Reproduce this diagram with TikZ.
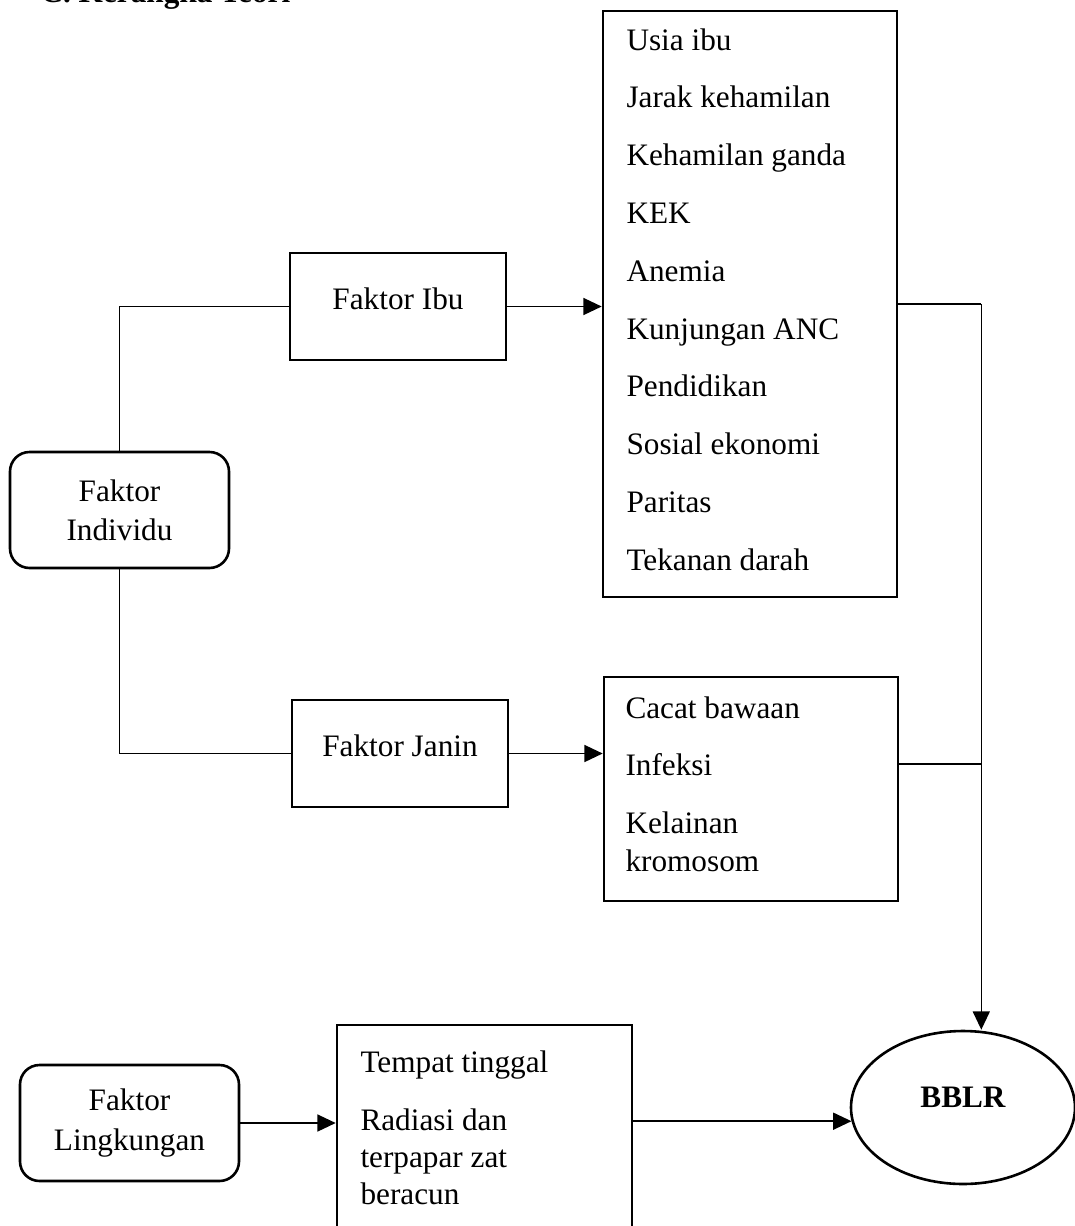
\documentclass[tikz,border=0pt]{standalone}
\usepackage{fontspec}
\setmainfont{Liberation Serif}
\usetikzlibrary{arrows.meta,shapes.geometric}

\newdimen\px \px=0.384pt

\tikzset{
  every node/.style={font=\fontsize{12}{15}\selectfont},
  kotak/.style={draw, line width=1pt, inner sep=0pt},
  faktorbox/.style={kotak, text depth=6pt},
  bulatbox/.style={kotak, rounded corners=7.5pt, align=center},
  itemtext/.style={anchor=base west, inner sep=0pt},
  link/.style={line width=0.6pt},
  panah/.style={link, -{Triangle[length=7pt,width=6.5pt]}}
}

\begin{document}
\begin{tikzpicture}[x=0.384pt, y=-0.384pt]
\useasboundingbox (0,0) rectangle (1075,1226);

\node[itemtext, font=\fontsize{12}{15}\selectfont\bfseries] (judul) at (40,2) {C. Kerangka Teori};

% Faktor Individu
\node[bulatbox, minimum width=219\px, minimum height=116\px] (individu) at (119.5,510) {Faktor\\Individu};
\node[faktorbox, minimum width=216\px, minimum height=107\px] (fibu) at (398,306.5) {Faktor Ibu};
\node[faktorbox, minimum width=216\px, minimum height=107\px] (fjan) at (400,753.5) {Faktor Janin};

% Daftar faktor ibu
\node[kotak, minimum width=294\px, minimum height=586\px] (ibulist) at (750,304) {};
\foreach \isi [count=\i] in {Usia ibu, Jarak kehamilan, Kehamilan ganda, KEK, Anemia,
  Kunjungan ANC, Pendidikan, Sosial ekonomi, Paritas, Tekanan darah}
  \node[itemtext] (ibu-\i) at (626,{50+57.8*(\i-1)}) {\isi};

% Daftar faktor janin
\node[kotak, minimum width=294\px, minimum height=224\px] (janlist) at (751,789) {};
\foreach \isi/\y [count=\i] in {Cacat bawaan/718, Infeksi/775, Kelainan/833, kromosom/871}
  \node[itemtext] (jan-\i) at (625,\y) {\isi};

% Faktor Lingkungan
\node[bulatbox, minimum width=219\px, minimum height=116\px] (lingk) at (129.5,1123) {Faktor\\Lingkungan};
\node[kotak, minimum width=295\px, minimum height=215\px] (linglist) at (484.5,1132.5) {};
\foreach \isi/\y [count=\i] in {Tempat tinggal/1072, Radiasi dan/1130, terpapar zat/1167, beracun/1204}
  \node[itemtext] (ling-\i) at (360,\y) {\isi};

% BBLR
\node[kotak, ellipse, minimum width=224\px, minimum height=153\px, text depth=8pt,
  font=\fontsize{12}{15}\selectfont\bfseries] (bblr) at (963,1107.5) {BBLR};

% garis penghubung
\draw[link] (individu.north) |- (fibu.west);
\draw[link] (individu.south) |- (fjan.west);
\draw[panah] (fibu.east) -- (fibu.east -| ibulist.west);
\draw[panah] (fjan.east) -- (fjan.east -| janlist.west);

\draw[link] (ibulist.east) -- ++(83,0) coordinate (sudut);
\draw[panah] (sudut) -- (sudut |- bblr.north);
\draw[link] (jan-2 -| janlist.east) -- (jan-2 -| sudut);

\draw[panah] (lingk.east) -- (lingk.east -| linglist.west);
\draw[panah] (linglist.east |- bblr.187) -- (bblr.187);
\end{tikzpicture}
\end{document}
